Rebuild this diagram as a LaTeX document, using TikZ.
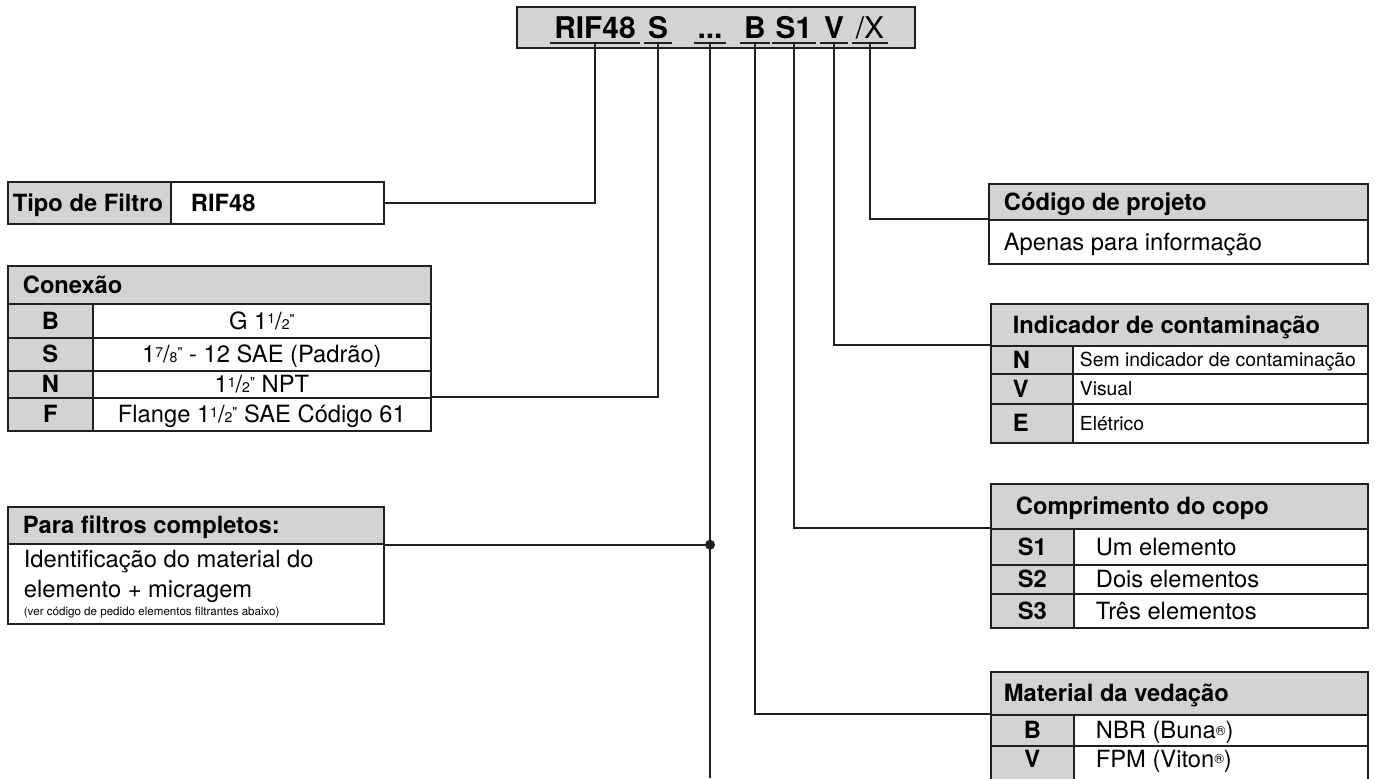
\documentclass[tikz,border=0pt]{standalone}
\usepackage{fontspec}
\setmainfont{TeX Gyre Heros}
\newfontfamily\plainheros{TeX Gyre Heros}
\usepackage{tikz}
\definecolor{boxgray}{RGB}{211,211,213}
\definecolor{ink}{RGB}{35,31,32}
\newcommand{\inchfrac}[2]{\raisebox{0.45ex}{\fontsize{8}{8}\selectfont#1}/{\fontsize{8}{8}\selectfont#2}}
\newcommand{\inchmark}{\raisebox{0.4ex}{\plainheros\fontsize{8}{8}\selectfont"}}
\newcommand{\regmark}{\raisebox{0.3ex}{\fontsize{7.5}{8}\selectfont ®}}

\begin{document}
\begin{tikzpicture}[x=0.02cm, y=-0.02cm,
  cell/.style={draw=ink, line width=1pt, anchor=north west, inner ysep=0pt},
  big/.style={font=\fontsize{13.5}{17}\selectfont, text height=12.2pt, text depth=2.5pt},
  small/.style={font=\fontsize{11}{13}\selectfont, text height=10pt, text depth=2.1pt},
  head/.style={cell, big, fill=boxgray, font=\bfseries\fontsize{13.5}{17}\selectfont, align=flush left},
  key/.style={cell, big, fill=boxgray, font=\bfseries\fontsize{13.5}{17}\selectfont},
  val/.style={cell, big, fill=white},
  codepart/.style={anchor=base, font=\bfseries\fontsize{17}{20}\selectfont, inner xsep=2pt, inner ysep=2.8pt, text depth=0pt},
  wire/.style={draw=ink, line width=1pt}]
\useasboundingbox (0,0) rectangle (1375,778);
\clip (0,0) rectangle (1375,778);
\fill[white] (0,0) rectangle (1375,778);

\draw (516,6) node (codebox) [cell, fill=boxgray, minimum width=7.96cm, minimum height=0.82cm] {};
\draw (595,38) node (rif)  [codepart] {RIF48};
\draw (658,38) node (conn) [codepart] {S};
\draw (710,38) node (elem) [codepart] {...};
\draw (755,38) node (seal) [codepart] {B};
\draw (794,38) node (bowl) [codepart] {S1};
\draw (834,38) node (ind)  [codepart] {V};
\draw (870,38) node (proj) [codepart, font=\fontsize{17}{20}\selectfont] {/X};
\draw[wire] (rif.south west) -- (rif.south east);
\draw[wire] (conn.south west) -- (conn.south east);
\draw[wire] (elem.south west) -- (elem.south east);
\draw[wire] (seal.south west) -- (seal.south east);
\draw[wire] (bowl.south west) -- (bowl.south east);
\draw[wire] (ind.south west) -- (ind.south east);
\draw[wire] (proj.south west) -- (proj.south east);

\draw (7,181)   node (tipoLabel) [head, inner xsep=0.1cm, text width=3.06cm, minimum height=0.84cm] {Tipo de Filtro};
\draw (170,181) node (tipoVal)   [val, align=flush left, font=\bfseries\fontsize{13.5}{17}\selectfont, inner xsep=0.4cm, text width=3.46cm, minimum height=0.84cm] {RIF48};
\draw[wire] (rif.south) |- (tipoVal.east);

\draw (7,265)  node (conHead) [head, inner xsep=0.3cm, text width=7.86cm, minimum height=0.76cm] {Conexão};
\draw (7,303)  node (conBkey) [key, minimum width=1.7cm, minimum height=0.68cm] {B};
\draw (92,303) node (conB)    [val, minimum width=6.76cm, minimum height=0.68cm] {G 1\inchfrac{1}{2}\inchmark};
\draw (7,337)  node (conSkey) [key, minimum width=1.7cm, minimum height=0.66cm] {S};
\draw (92,337) node (conS)    [val, minimum width=6.76cm, minimum height=0.66cm] {1\inchfrac{7}{8}\inchmark\ - 12 SAE (Padrão)};
\draw (7,370)  node (conNkey) [key, minimum width=1.7cm, minimum height=0.54cm] {N};
\draw (92,370) node (conN)    [val, minimum width=6.76cm, minimum height=0.54cm] {1\inchfrac{1}{2}\inchmark\ NPT};
\draw (7,397)  node (conFkey) [key, minimum width=1.7cm, minimum height=0.66cm] {F};
\draw (92,397) node (conF)    [val, minimum width=6.76cm, minimum height=0.66cm] {Flange 1\inchfrac{1}{2}\inchmark\ SAE Código 61};
\draw[wire] (conn.south) |- (conF.north east);

\draw (7,506) node (filtHead) [head, inner xsep=0.3cm, text width=6.92cm, minimum height=0.74cm] {Para filtros completos:};
\draw (7,543) node (filtBody) [cell, fill=white, align=flush left, font=\fontsize{13.5}{17.5}\selectfont, inner xsep=0.32cm, text width=6.88cm, minimum height=1.6cm]
  {Identificação do material do\\elemento + micragem\\[-7.5pt]{\fontsize{6.6}{8}\selectfont(ver código de pedido elementos filtrantes abaixo)}};
\coordinate (elemEnd) at (710,778);
\coordinate (junction) at (elem.south |- filtHead.south east);
\draw[wire] (elem.south) -- (elemEnd);
\draw[wire] (filtHead.south east) -- (junction);
\fill[ink] (junction) circle (0.1cm);

\draw (988,183) node (projHead) [head, inner xsep=0.3cm, text width=6.98cm, minimum height=0.72cm] {Código de projeto};
\draw (988,219) node (projBody) [val, align=flush left, inner xsep=0.3cm, text width=6.98cm, minimum height=0.88cm] {Apenas para informação};
\draw[wire] (proj.south) |- (projBody.north west);

\draw (990,303)  node (indHead) [head, inner xsep=0.44cm, text width=6.66cm, minimum height=0.84cm] {Indicador de contaminação};
\draw (990,345)  node (indNkey) [key, align=flush left, inner xsep=0.44cm, text width=0.76cm, minimum height=0.56cm] {N};
\draw (1072,345) node (indN)    [val, small, align=flush left, inner xsep=0.14cm, text width=5.62cm, minimum height=0.56cm] {Sem indicador de contaminação};
\draw (990,373)  node (indVkey) [key, align=flush left, inner xsep=0.44cm, text width=0.76cm, minimum height=0.6cm] {V};
\draw (1072,373) node (indV)    [val, small, align=flush left, inner xsep=0.14cm, text width=5.62cm, minimum height=0.6cm] {Visual};
\draw (990,403)  node (indEkey) [key, align=flush left, inner xsep=0.44cm, text width=0.76cm, minimum height=0.78cm] {E};
\draw (1072,403) node (indE)    [val, small, align=flush left, inner xsep=0.14cm, text width=5.62cm, minimum height=0.78cm] {Elétrico};
\draw[wire] (ind.south) |- (indNkey.north west);

\draw (990,483)  node (bowlHead)  [head, inner xsep=0.5cm, text width=6.54cm, minimum height=0.9cm] {Comprimento do copo};
\draw (990,528)  node (bowlS1key) [key, minimum width=1.66cm, minimum height=0.72cm] {S1};
\draw (1073,528) node (bowlS1)    [val, align=flush left, inner xsep=0.44cm, text width=5.0cm, minimum height=0.72cm] {Um elemento};
\draw (990,564)  node (bowlS2key) [key, minimum width=1.66cm, minimum height=0.58cm] {S2};
\draw (1073,564) node (bowlS2)    [val, align=flush left, inner xsep=0.44cm, text width=5.0cm, minimum height=0.58cm] {Dois elementos};
\draw (990,593)  node (bowlS3key) [key, minimum width=1.66cm, minimum height=0.68cm] {S3};
\draw (1073,593) node (bowlS3)    [val, align=flush left, inner xsep=0.44cm, text width=5.0cm, minimum height=0.68cm] {Três elementos};
\draw[wire] (bowl.south) |- (bowlS1key.north west);

\draw (990,671)  node (sealHead) [head, inner xsep=0.26cm, text width=7.02cm, minimum height=0.86cm] {Material da vedação};
\draw (990,714)  node (sealBkey) [key, minimum width=1.66cm, minimum height=0.62cm] {B};
\draw (1073,714) node (sealB)    [val, align=flush left, inner xsep=0.44cm, text width=5.0cm, minimum height=0.62cm] {NBR (Buna\regmark)};
\draw (990,745)  node (sealVkey) [key, text depth=30.3pt, minimum width=1.66cm, minimum height=1.5cm] {V};
\draw (1073,745) node (sealV)    [val, text depth=30.3pt, align=flush left, inner xsep=0.44cm, text width=5.0cm, minimum height=1.5cm] {FPM (Viton\regmark)};
\draw[wire] (seal.south) |- (sealBkey.north west);
\end{tikzpicture}
\end{document}
